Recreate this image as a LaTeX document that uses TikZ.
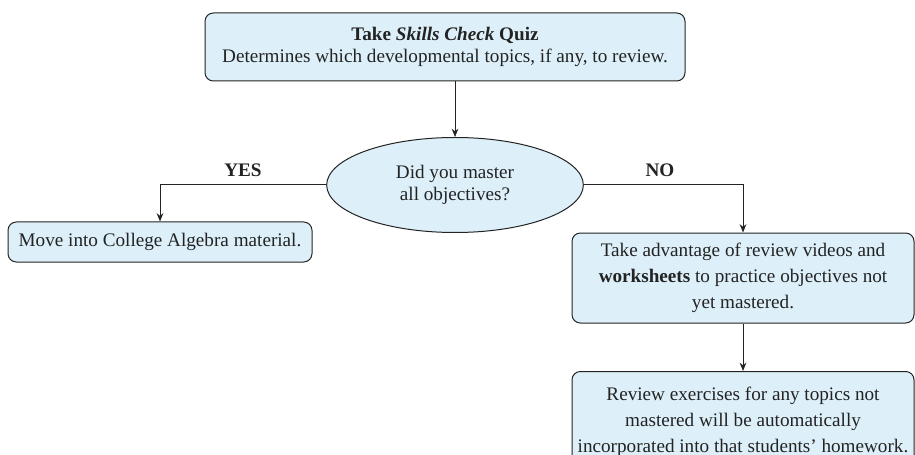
\documentclass[tikz,border=0pt]{standalone}
\usepackage{fontspec}
\setmainfont{Liberation Serif}
\usetikzlibrary{shapes.geometric, arrows.meta}
\definecolor{boxblue}{RGB}{221,240,249}
\definecolor{inkgray}{RGB}{35,35,35}

\begin{document}
\begin{tikzpicture}[x=0.6pt, y=-0.6pt, draw=inkgray, text=inkgray, line width=0.6pt,
  font=\fontsize{11.5}{13.2}\selectfont,
  box/.style={draw, fill=boxblue, rounded corners=5pt, align=center, inner sep=0pt},
  decision/.style={draw, fill=boxblue, ellipse, align=center, inner sep=0pt},
  arr/.style={-{Stealth[length=5pt, width=4pt]}},
  lab/.style={font=\fontsize{11.5}{13.2}\selectfont\bfseries}]
  % picture frame: the reference is cut at right and bottom
  \clip (0,0) rectangle (915,455);
  % quiz at the top
  \node[box, minimum width=288pt, minimum height=40.8pt] (quiz) at (445,47)
    {\textbf{Take \textit{Skills Check} Quiz}\\Determines which developmental topics, if any, to review.};
  % the question
  \node[decision, minimum width=154pt, minimum height=57pt,
        font=\fontsize{11.5}{13}\selectfont] (master) at (455,185)
    {Did you master\\all objectives?};
  % YES branch
  \node[box, minimum width=182.4pt, minimum height=24pt] (algebra) at (160,242)
    {Move into College Algebra material.};
  % NO branch
  \node[box, minimum width=205.2pt, minimum height=54pt,
        font=\fontsize{11.5}{15.6}\selectfont] (review) at (743,278)
    {Take advantage of review videos and\\\textbf{worksheets} to practice objectives not\\yet mastered.};
  \node[box, minimum width=205.2pt, minimum height=60pt, anchor=north,
        font=\fontsize{11.5}{15.6}\selectfont] (homework) at (743,371)
    {Review exercises for any topics not\\mastered will be automatically\\incorporated into that students' homework.};
  % connectors
  \draw[arr] (quiz.south -| master.north) -- (master.north);
  \draw[arr] (master.west) -| (algebra.north);
  \draw[arr] (master.east) -| (review.north);
  \draw[arr] (review.south) -- (homework.north);
  \node[lab] (yes) at (243,170) {YES};
  \node[lab] (no) at (660,170) {NO};
\end{tikzpicture}
\end{document}
